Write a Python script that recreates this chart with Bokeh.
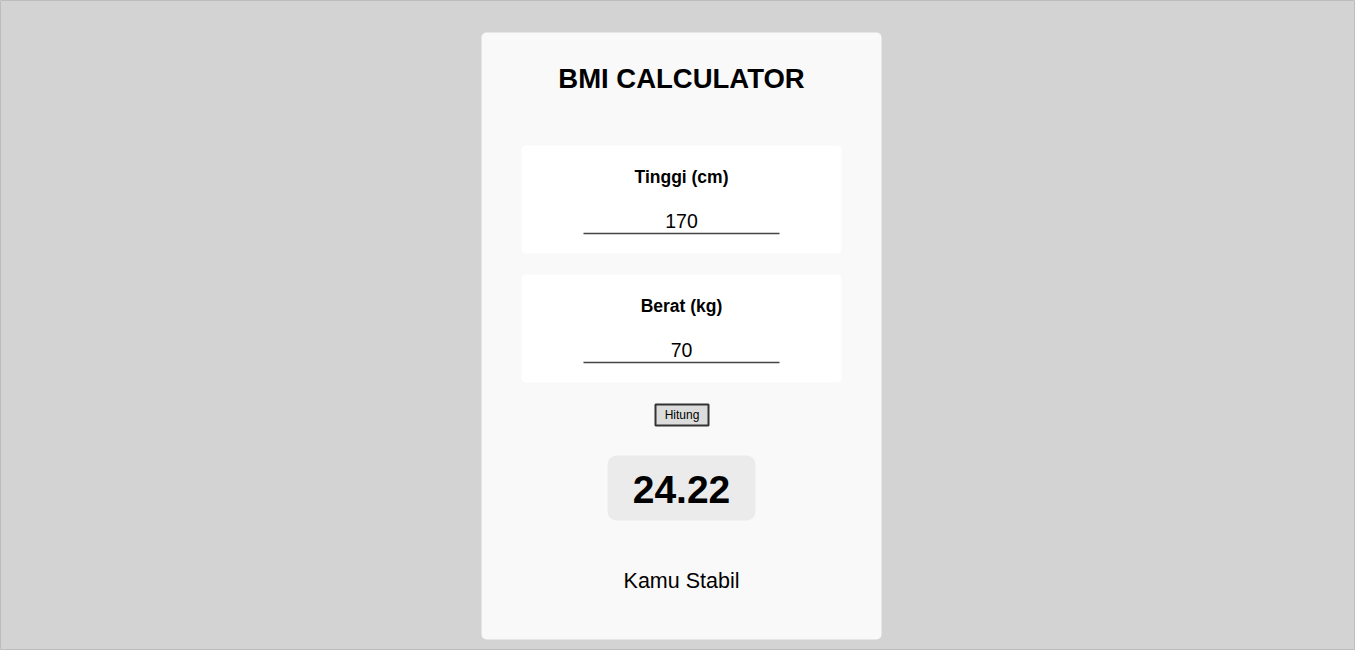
from bokeh.core.properties import value
from bokeh.embed import file_html
from bokeh.models import Range1d
from bokeh.plotting import figure
from bokeh.resources import INLINE

title = "BMI CALCULATOR"
field_labels = ["Tinggi (cm)", "Berat (kg)"]
field_values = ["170", "70"]
button_label = "Hitung"
bmi_value = "24.22"
status_text = "Kamu Stabil"

FONT = value("Liberation Sans")

p = figure(width=1355, height=650, output_backend="svg", toolbar_location=None,
           x_range=Range1d(0, 1355), y_range=Range1d(650, 0), min_border=0)
p.axis.visible = False
p.grid.visible = False
p.outline_line_color = "#bdbdbd"
p.background_fill_color = "#d3d3d3"
p.border_fill_color = "#d3d3d3"

# card
p.quad(left=481, right=881, top=32, bottom=639, fill_color="#f9f9f9",
       line_color=None, border_radius=5)
p.text(x=[681], y=[78], text=[title], text_font=FONT, text_font_size="27.5px",
       text_font_style="bold", text_align="center", text_baseline="middle")

# input boxes
box_tops = [145, 274]
for i, (lab, val) in enumerate(zip(field_labels, field_values)):
    t = box_tops[i]
    p.quad(left=521, right=841, top=t, bottom=t + 108, fill_color="white",
           line_color=None, border_radius=4)
    p.text(x=[681], y=[t + 31], text=[lab], text_font=FONT, text_font_size="17.5px",
           text_font_style="bold", text_align="center", text_baseline="middle")
    p.text(x=[681], y=[t + 75], text=[val], text_font=FONT, text_font_size="19.5px",
           text_align="center", text_baseline="middle")
    p.segment(x0=583, x1=779, y0=t + 88, y1=t + 88, line_color="#444444", line_width=1.3)

# button
p.quad(left=655, right=708, top=404, bottom=425, fill_color="#dcdcdc",
       line_color="#333333", line_width=2)
p.text(x=[681.5], y=[414.5], text=[button_label], text_font=FONT, text_font_size="12px",
       text_align="center", text_baseline="middle")

# result
p.quad(left=607, right=755, top=455, bottom=520, fill_color="#ebebeb",
       line_color=None, border_radius=9)
p.text(x=[681], y=[489], text=[bmi_value], text_font=FONT, text_font_size="39px",
       text_font_style="bold", text_align="center", text_baseline="middle",
       text_line_height=1.0)
p.text(x=[681], y=[580], text=[status_text], text_font=FONT, text_font_size="21.5px",
       text_align="center", text_baseline="middle")

open("out.html", "w").write(file_html(p, INLINE))
